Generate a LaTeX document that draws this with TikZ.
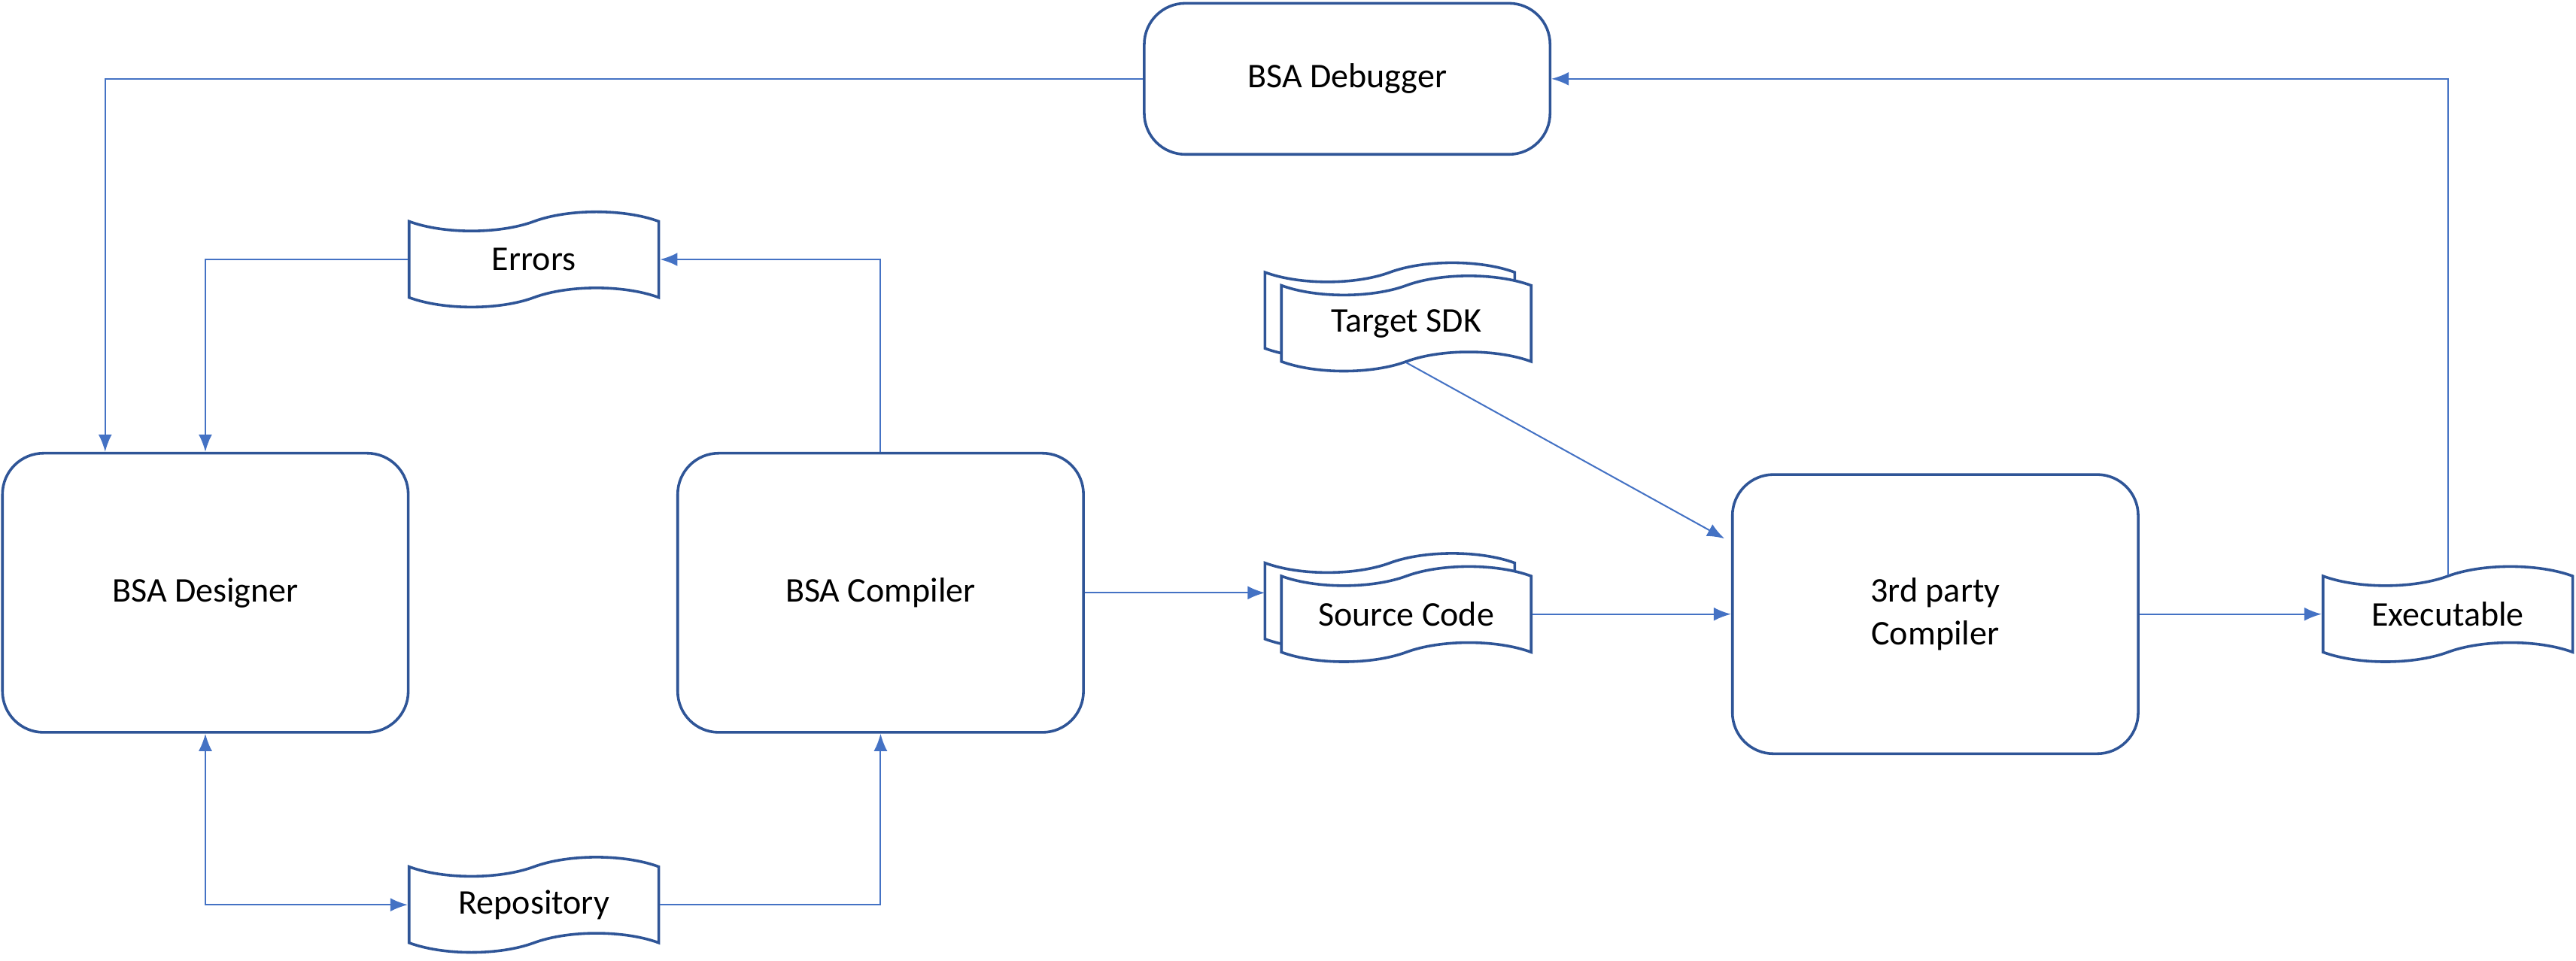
\documentclass[tikz,border=0pt]{standalone}
\usepackage{fontspec}
\setmainfont{Carlito}
\usetikzlibrary{shapes.symbols,shadows,arrows.meta}
\definecolor{boxline}{HTML}{2F5597}
\definecolor{flow}{HTML}{4472C4}
\begin{document}
\begin{tikzpicture}[x=0.03cm,y=-0.03cm,
    block/.style={draw=boxline,line width=1.4pt,rounded corners=0.75cm,minimum width=247*0.03cm,minimum height=170*0.03cm,align=center,font=\fontsize{18}{22}\selectfont},
    tapenode/.style={tape,draw=boxline,line width=1.4pt,fill=white,minimum width=152*0.03cm,minimum height=58*0.03cm,tape bend height=0.35cm,inner sep=0pt,font=\fontsize{18}{22}\selectfont},
    multitape/.style={tapenode,copy shadow={shadow xshift=-0.3cm,shadow yshift=0.24cm,draw=boxline,line width=1.4pt,fill=white}},
    flowline/.style={draw=flow,line width=0.8pt,-{Latex[length=9pt,width=7pt]}}]
\useasboundingbox (0,0) rectangle (1568,585);

\node (debugger) [block,minimum height=92*0.03cm] at (820,48) {BSA Debugger};
\node (designer) [block] at (125,361) {BSA Designer};
\node (compiler) [block] at (536,361) {BSA Compiler};
\node (party) [block] at (1178,374) {3rd party\\Compiler};

\node (errors) [tapenode] at (325,158) {Errors};
\node (repo) [tapenode] at (325,551) {Repository};
\node (sdk) [multitape] at (856,197) {Target SDK};
\node (source) [multitape] at (856,374) {Source Code};
\node (exe) [tapenode] at (1490,374) {Executable};

% feedback and errors
\draw [flowline] (debugger.west) -| (designer.north -| 64,0);
\draw [flowline] (errors.west) -| (designer.north);
\draw [flowline] (compiler.north) |- (errors.east);

% repository
\draw [flowline,{Latex[length=9pt,width=7pt]}-{Latex[length=9pt,width=7pt]}] (designer.south) |- (repo.west);
\draw [flowline] (repo.east) -| (compiler.south);

% build chain
\draw [flowline] (compiler.east) -- (compiler.east -| 770,0);
\draw [flowline] (source.east) -- (party.west |- source.east);
\draw [flowline] (sdk.south) -- ([xshift=-4*0.03cm]party.west |- 0,328);
\draw [flowline] (party.east) -- (exe.west);
\draw [flowline] (exe.north) |- (debugger.east);

\end{tikzpicture}
\end{document}
